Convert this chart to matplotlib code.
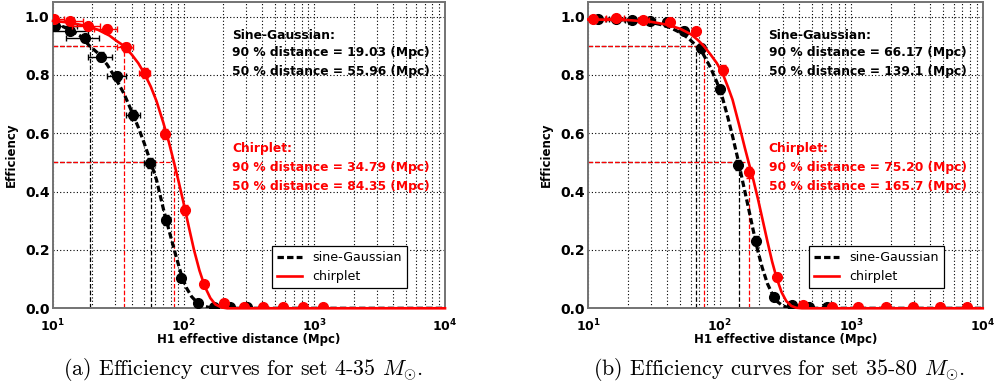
import math
import matplotlib
matplotlib.use('Agg')
import matplotlib.pyplot as plt
from matplotlib.ticker import FixedLocator, LogLocator, FuncFormatter

plt.rcParams['mathtext.fontset'] = 'dejavusans'

# ---------------- set 4-35 Msun ----------------
# sine-Gaussian injections: binned efficiency
sg_a_x = [10.4, 13.5, 17.5, 23.5, 31.0, 41.0, 55.0, 72.9, 96.0, 128.5, 170, 228, 305]
sg_a_y = [0.968, 0.951, 0.925, 0.863, 0.795, 0.663, 0.498, 0.303, 0.105, 0.017, 0.004, 0.003, 0.003]
sg_a_yerr = [0.012, 0.012, 0.013, 0.015, 0.015, 0.017, 0.017, 0.016, 0.012, 0.008, 0.005, 0.004, 0.004]
sg_a_xerr = 5.0
# fitted curve
sg_a_fit_x = [10, 12, 14, 16, 19, 22, 26, 30, 35, 40, 45, 50, 56, 62, 70, 78, 86, 96, 105, 115, 128, 140, 160, 180, 10000]
sg_a_fit_y = [0.975, 0.965, 0.95, 0.935, 0.90, 0.875, 0.835, 0.79, 0.735, 0.675, 0.62, 0.565, 0.50, 0.44, 0.34,
              0.26, 0.19, 0.115, 0.07, 0.04, 0.018, 0.008, 0.002, 0.0, 0.0]
sg_a_d90, sg_a_d50 = 19.03, 55.96

# chirplet injections
ch_a_x = [10.2, 13.5, 18.4, 25.7, 36.1, 50.4, 71.6, 101.8, 142.9, 202, 292, 403, 573, 815, 1157]
ch_a_y = [0.990, 0.984, 0.967, 0.959, 0.895, 0.807, 0.598, 0.336, 0.082, 0.017, 0.006, 0.005, 0.005, 0.005, 0.005]
ch_a_yerr = [0.008, 0.01, 0.012, 0.012, 0.015, 0.016, 0.017, 0.017, 0.012, 0.007, 0.005, 0.005, 0.005, 0.005, 0.005]
ch_a_xerr = [2.0, 3.5, 4.5, 5, 5, 5, 5, 5, 5, 5, 5, 5, 5, 5, 5]
ch_a_fit_x = [10, 13, 17, 22, 27, 31, 34.79, 40, 45, 50, 56, 62, 70, 77, 84.35, 92, 100, 110, 120, 132, 145, 160,
              175, 195, 215, 10000]
ch_a_fit_y = [0.985, 0.98, 0.97, 0.955, 0.935, 0.915, 0.90, 0.87, 0.84, 0.805, 0.76, 0.71, 0.635, 0.57, 0.50,
              0.43, 0.36, 0.275, 0.20, 0.13, 0.075, 0.035, 0.013, 0.003, 0.0, 0.0]
ch_a_d90, ch_a_d50 = 34.79, 84.35

# ---------------- set 35-80 Msun ----------------
sg_b_x = [11.9, 16.1, 21.6, 29.5, 39.9, 53.7, 71.9, 100.3, 136.5, 188.5, 258, 352, 480, 655]
sg_b_y = [0.991, 0.990, 0.989, 0.986, 0.981, 0.951, 0.892, 0.750, 0.491, 0.232, 0.040, 0.011, 0.003, 0.003]
sg_b_yerr = [0.01, 0.01, 0.01, 0.01, 0.01, 0.012, 0.014, 0.016, 0.018, 0.016, 0.01, 0.006, 0.004, 0.004]
sg_b_xerr = 2.5
sg_b_fit_x = [10, 15, 20, 25, 30, 36, 42, 50, 58, 66.17, 75, 85, 95, 105, 115, 125, 139.1, 150, 165, 180, 195,
              210, 230, 250, 275, 300, 330, 360, 10000]
sg_b_fit_y = [0.99, 0.99, 0.988, 0.985, 0.98, 0.972, 0.962, 0.945, 0.925, 0.90, 0.87, 0.825, 0.775, 0.72, 0.655,
              0.59, 0.50, 0.43, 0.345, 0.265, 0.195, 0.14, 0.085, 0.05, 0.022, 0.009, 0.002, 0.0, 0.0]
sg_b_d90, sg_b_d50 = 66.17, 139.1

ch_b_x = [10.9, 16.2, 26.2, 41.8, 65.9, 104.9, 167.5, 270.7, 431.8, 709, 1130, 1827, 2933, 4730, 7550]
ch_b_y = [0.991, 0.994, 0.989, 0.983, 0.949, 0.817, 0.466, 0.108, 0.011, 0.005, 0.005, 0.005, 0.005, 0.005, 0.005]
ch_b_yerr = [0.01, 0.01, 0.01, 0.01, 0.012, 0.016, 0.018, 0.014, 0.006, 0.005, 0.005, 0.005, 0.005, 0.005, 0.005]
ch_b_xerr = 2.5
ch_b_fit_x = [10, 20, 30, 40, 50, 60, 68, 75.2, 85, 95, 105, 115, 125, 140, 155, 165.7, 180, 195, 210, 230, 250,
              270, 295, 320, 350, 380, 420, 10000]
ch_b_fit_y = [0.99, 0.988, 0.982, 0.972, 0.958, 0.94, 0.92, 0.90, 0.87, 0.84, 0.805, 0.76, 0.715, 0.63, 0.55,
              0.50, 0.44, 0.375, 0.31, 0.23, 0.16, 0.105, 0.055, 0.025, 0.008, 0.002, 0.0, 0.0]
ch_b_d90, ch_b_d50 = 75.20, 165.7

captions = [r'(a) Efficiency curves for set 4-35 $M_{\odot}$.',
            r'(b) Efficiency curves for set 35-80 $M_{\odot}$.']

FS = 8.8


def draw(ax, sg, ch):
    # reference lines at the 90 % and 50 % distances
    for d, lev, col in [(sg['d90'], 0.9, 'k'), (sg['d50'], 0.5, 'k'), (ch['d90'], 0.9, 'r'), (ch['d50'], 0.5, 'r')]:
        ax.vlines(d, 0, lev, colors=col, linestyles='--', lw=0.9, zorder=2)
        ax.hlines(lev, 10, d, colors=col, linestyles='--', lw=0.9, zorder=2)

    ax.plot(sg['fx'], sg['fy'], color='k', lw=2.3, ls=(0, (2, 1)), label='sine-Gaussian', zorder=3)
    ax.errorbar(sg['x'], sg['y'], xerr=sg['xerr'], yerr=sg['yerr'], fmt='o', color='k', ms=7,
                elinewidth=1, capsize=2.5, capthick=1, zorder=4)
    ax.plot(ch['fx'], ch['fy'], color='r', lw=1.9, label='chirplet', zorder=5, clip_on=False)
    ax.errorbar(ch['x'], ch['y'], xerr=ch['xerr'], yerr=ch['yerr'], fmt='o', color='r', ms=7,
                elinewidth=1, capsize=2.5, capthick=1, zorder=6)

    ax.set_xscale('log')
    ax.set_xlim(10, 1e4)
    ax.set_ylim(0, 1.05)
    ax.xaxis.set_major_locator(FixedLocator([10, 100, 1000, 10000]))
    ax.xaxis.set_minor_locator(LogLocator(base=10, subs=range(2, 10)))
    ax.xaxis.set_major_formatter(FuncFormatter(lambda v, p: r'$\mathbf{10^{%d}}$' % round(math.log10(v))))
    ax.set_yticks([0.0, 0.2, 0.4, 0.6, 0.8, 1.0])
    ax.set_yticklabels(['%.1f' % t for t in ax.get_yticks()], fontweight='bold', fontsize=10)
    ax.tick_params(axis='x', which='major', labelsize=9, pad=7)
    ax.tick_params(axis='y', pad=2.5)
    ax.tick_params(direction='in', length=0, which='both')
    ax.grid(True, which='major', color='k', ls=(0, (1, 2)), lw=0.8)
    ax.grid(True, which='minor', axis='x', color='k', ls=(0, (1, 2)), lw=0.8)
    for s in ax.spines.values():
        s.set_color('0.45')
        s.set_linewidth(1.4)

    ax.set_xlabel('H1 effective distance (Mpc)', fontweight='bold', fontsize=8.5, labelpad=-1)
    ax.set_ylabel('Efficiency', fontweight='bold', fontsize=8.5, labelpad=5)

    tx = 0.457
    ax.text(tx, 0.892, 'Sine-Gaussian:', transform=ax.transAxes, fontsize=FS, fontweight='bold', va='center')
    ax.text(tx, 0.834, '90 %% distance = %#.4g (Mpc)' % sg['d90'], transform=ax.transAxes, fontsize=FS,
            fontweight='bold', va='center')
    ax.text(tx, 0.772, '50 %% distance = %#.4g (Mpc)' % sg['d50'], transform=ax.transAxes, fontsize=FS,
            fontweight='bold', va='center')
    ax.text(tx, 0.523, 'Chirplet:', transform=ax.transAxes, fontsize=FS, fontweight='bold', va='center', color='r')
    ax.text(tx, 0.458, '90 %% distance = %#.4g (Mpc)' % ch['d90'], transform=ax.transAxes, fontsize=FS,
            fontweight='bold', va='center', color='r')
    ax.text(tx, 0.396, '50 %% distance = %#.4g (Mpc)' % ch['d50'], transform=ax.transAxes, fontsize=FS,
            fontweight='bold', va='center', color='r')

    leg = ax.legend(loc='lower right', bbox_to_anchor=(0.902, 0.065), borderaxespad=0, fancybox=False,
                    fontsize=9.1, framealpha=1)
    leg.get_frame().set_edgecolor('k')
    leg.get_frame().set_linewidth(0.9)


fig = plt.figure(figsize=(9.96, 3.87), dpi=100)
ax1 = fig.add_axes([0.0532, 0.2034, 0.3936, 0.7915])
ax2 = fig.add_axes([0.5907, 0.2034, 0.396, 0.7915])

draw(ax1,
     dict(x=sg_a_x, y=sg_a_y, xerr=sg_a_xerr, yerr=sg_a_yerr, fx=sg_a_fit_x, fy=sg_a_fit_y, d90=sg_a_d90, d50=sg_a_d50),
     dict(x=ch_a_x, y=ch_a_y, xerr=ch_a_xerr, yerr=ch_a_yerr, fx=ch_a_fit_x, fy=ch_a_fit_y, d90=ch_a_d90, d50=ch_a_d50))
draw(ax2,
     dict(x=sg_b_x, y=sg_b_y, xerr=sg_b_xerr, yerr=sg_b_yerr, fx=sg_b_fit_x, fy=sg_b_fit_y, d90=sg_b_d90, d50=sg_b_d50),
     dict(x=ch_b_x, y=ch_b_y, xerr=ch_b_xerr, yerr=ch_b_yerr, fx=ch_b_fit_x, fy=ch_b_fit_y, d90=ch_b_d90, d50=ch_b_d50))

fig.text(0.2435, 0.044, captions[0], ha='center', va='center', fontsize=15.8, family='serif',
         fontname='cmr10', math_fontfamily='cm')
fig.text(0.7826, 0.044, captions[1], ha='center', va='center', fontsize=15.8, family='serif',
         fontname='cmr10', math_fontfamily='cm')

fig.savefig('out.png', dpi=100)
